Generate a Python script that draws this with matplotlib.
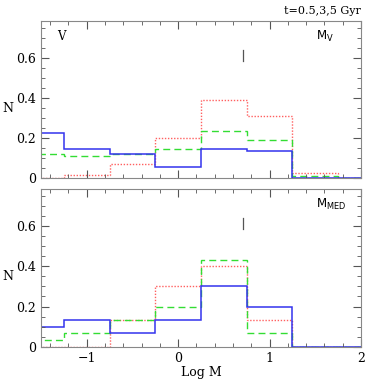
import numpy as np
import matplotlib.pyplot as plt
from matplotlib.ticker import MultipleLocator

plt.rcParams['font.family'] = ['DejaVu Serif']

edges = [-1.75, -1.25, -0.75, -0.25, 0.25, 0.75, 1.25, 1.75, 2.25]

# top panel (V / M_V)
top_blue = [0.225, 0.145, 0.122, 0.055, 0.145, 0.135, 0.0, 0.0]
top_green = [0.122, 0.112, 0.122, 0.145, 0.233, 0.19, 0.01, 0.0]
top_red = [0.0, 0.013, 0.068, 0.2, 0.39, 0.31, 0.023, 0.0]

# bottom panel (M_MED)
bot_blue = [0.1, 0.133, 0.067, 0.133, 0.3, 0.2, 0.0, 0.0]
bot_green = [0.033, 0.067, 0.133, 0.2, 0.433, 0.067, 0.0, 0.0]
bot_red = [0.0, 0.0, 0.133, 0.3, 0.4, 0.133, 0.0, 0.0]

mark_x = 0.71
mark_y = (0.585, 0.64)

fig = plt.figure(figsize=(3.82, 3.82), dpi=100)
W = H = 382.0
ax1 = fig.add_axes([41 / W, (H - 178) / H, 320 / W, 157 / H])
ax2 = fig.add_axes([41 / W, (H - 346.7) / H, 320 / W, 157.7 / H])

for ax, b, g, r, lab in [(ax1, top_blue, top_green, top_red, r'$\mathrm{M_V}$'),
                         (ax2, bot_blue, bot_green, bot_red, r'$\mathrm{M_{MED}}$')]:
    ax.stairs(r, edges, color='#ff6060', lw=1.0, ls=(0, (1, 1.2)))
    ax.stairs(g, edges, color='#33dd33', lw=1.0, ls=(0, (5, 3)))
    ax.stairs(b, edges, color='#3333ee', lw=1.1)
    ax.plot([mark_x, mark_x], mark_y, color='#555555', lw=0.9)
    ax.set_xlim(-1.5, 2)
    ax.set_ylim(0, 0.785)
    ax.xaxis.set_major_locator(MultipleLocator(1))
    ax.xaxis.set_minor_locator(MultipleLocator(0.2))
    ax.yaxis.set_major_locator(MultipleLocator(0.2))
    ax.yaxis.set_minor_locator(MultipleLocator(0.05))
    ax.tick_params(which='both', direction='in', top=True, right=True,
                   labelsize=9, color='#555555')
    ax.tick_params(which='major', length=6)
    ax.tick_params(which='minor', length=3)
    for s in ax.spines.values():
        s.set_color('#888888')
    ax.set_yticks([0, 0.2, 0.4, 0.6])
    ax.set_yticklabels(['0', '0.2', '0.4', '0.6'])
    ax.text(0.86, 0.9, lab, transform=ax.transAxes, fontsize=8.5, va='center')

fig.text(8 / W, 1 - 108 / H, 'N', fontsize=9, ha='center', va='center')
fig.text(8 / W, 1 - 277 / H, 'N', fontsize=9, ha='center', va='center')

ax1.tick_params(labelbottom=False)
ax1.text(0.05, 0.9, 'V', transform=ax1.transAxes, fontsize=8.5, va='center')
ax1.text(1.0, 1.03, 't=0.5,3,5 Gyr', transform=ax1.transAxes, fontsize=8,
         ha='right', va='bottom')
ax2.set_xticks([-1, 0, 1, 2])
ax2.set_xticklabels(['\u22121', '0', '1', '2'])
ax2.set_xlabel('Log M', fontsize=9, labelpad=1)

fig.savefig('out.png', dpi=100)
